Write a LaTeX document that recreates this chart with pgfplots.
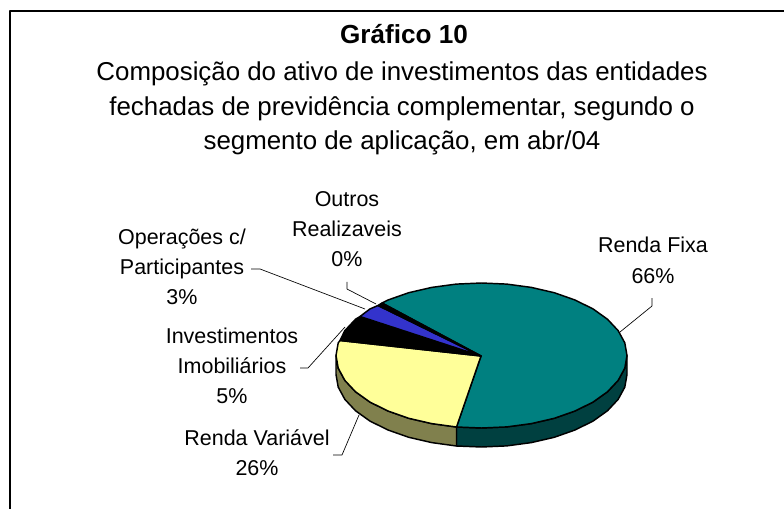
\documentclass[border=0pt]{standalone}
\usepackage{pgfplots}
\pgfplotsset{compat=1.18}
\usepackage{fontspec}
\setmainfont{Liberation Sans}
\definecolor{tealtop}{HTML}{008080}
\definecolor{tealside}{HTML}{004040}
\definecolor{yellowtop}{HTML}{FFFF99}
\definecolor{yellowside}{HTML}{80804D}
\definecolor{bluetop}{HTML}{3333CC}
\newcommand{\lab}[3]{\node[anchor=base,inner sep=0pt,font=\fontsize{16.1}{18}\selectfont] at (axis cs:#1,#2) {#3};}
\newcommand{\ttl}[3]{\node[anchor=base,inner sep=0pt,font=\fontsize{19.4}{22}\selectfont] at (axis cs:#1,#2) {#3};}
\begin{document}
\begin{tikzpicture}
\begin{axis}[
    scale only axis,
    width=588pt, height=381.75pt,
    xmin=0, xmax=784, ymin=0, ymax=509,
    y dir=reverse,
    hide axis,
    clip=true,
    every axis plot/.append style={no markers, line join=round},
]
% keeps the page at the full size
\addplot[draw=none] coordinates {(0,0) (784,509)};
% frame (cut off at right and bottom)
\addplot[black, line width=0.9pt] coordinates {(10,509) (10,11) (784,11)};

% sides of the pie
\addplot[fill=tealside, draw=black, line width=1.1pt] coordinates {
    (627,355.5) (624.8,368.1) (618.2,380.3) (607.5,391.75) (593,402.1) (575,411)
    (554.25,418.3) (531.3,423.6) (506.8,426.9) (481.5,428) (456.5,427)
    (456.5,446) (481.5,447) (506.8,445.9) (531.3,442.6) (554.25,437.3) (575,430)
    (593,421.1) (607.5,410.75) (618.2,399.3) (624.8,387.1) (627,374.5)
} --cycle;
\addplot[fill=yellowside, draw=black, line width=1.1pt] coordinates {
    (456.5,427) (431.7,423.6) (408.75,418.3) (388,411) (370,402.1) (355.5,391.75)
    (344.8,380.3) (338.2,368.1) (336,355.5)
    (336,374.5) (338.2,387.1) (344.8,399.3) (355.5,410.75) (370,421.1) (388,430)
    (408.75,437.3) (431.7,442.6) (456.5,446)
} --cycle;

% top face: Renda Fixa 66%
\addplot[fill=tealtop, draw=black, line width=1.1pt] coordinates {
    (481,356) (382,303) (388,300) (408.75,292.7) (431.7,287.4) (456.2,284.1) (481.5,283)
    (506.8,284.1) (531.3,287.4) (554.25,292.7) (575,300) (593,308.9) (607.5,319.25)
    (618.2,330.7) (624.8,342.9) (627,355.5) (624.8,368.1) (618.2,380.3) (607.5,391.75)
    (593,402.1) (575,411) (554.25,418.3) (531.3,423.6) (506.8,426.9) (481.5,428) (456.5,427)
} --cycle;
% Renda Variavel 26%
\addplot[fill=yellowtop, draw=black, line width=1.1pt] coordinates {
    (481,356) (456.5,427) (431.7,423.6) (408.75,418.3) (388,411) (370,402.1) (355.5,391.75)
    (344.8,380.3) (338.2,368.1) (336,355.5) (338.2,342.9) (340,340.5)
} --cycle;
% Investimentos Imobiliarios 5%
\addplot[fill=black, draw=black, line width=1.1pt] coordinates {
    (481,356) (340,340.5) (344.8,330.7) (355.5,319.25) (360,316.5)
} --cycle;
% Operacoes c/ Participantes 3%
\addplot[fill=bluetop, draw=black, line width=1.1pt] coordinates {
    (481,356) (360,316.5) (370,308.9) (378,305.5)
} --cycle;
% Outros Realizaveis 0%
\addplot[fill=black, draw=black, line width=1.1pt] coordinates {
    (481,356) (378,305.5) (382,303)
} --cycle;

% leader lines
\addplot[black, line width=0.5pt] coordinates {(620,332) (652,306) (652,298)};
\addplot[black, line width=0.5pt] coordinates {(251,269) (260,269) (365,309)};
\addplot[black, line width=0.5pt] coordinates {(347,282) (347,289) (376,304)};
\addplot[black, line width=0.5pt] coordinates {(345,327) (308,368) (300,368)};
\addplot[black, line width=0.5pt] coordinates {(359,415) (342,455) (333,455)};

% title
\node[anchor=base,inner sep=0pt,font=\fontsize{19.6}{22}\selectfont\bfseries] at (axis cs:404,44) {Gráfico 10};
\ttl{402}{81}{Composição do ativo de investimentos das entidades}
\ttl{402}{116}{fechadas de previdência complementar, segundo o}
\ttl{402}{150}{segmento de aplicação, em abr/04}

% data labels
\lab{347}{207}{Outros}
\lab{347}{237}{Realizaveis}
\lab{347}{267}{0\%}
\lab{182}{245}{Operações c/}
\lab{182}{275}{Participantes}
\lab{182}{305}{3\%}
\lab{232}{343}{Investimentos}
\lab{232}{373}{Imobiliários}
\lab{232}{403}{5\%}
\lab{257}{445}{Renda Variável}
\lab{257}{475}{26\%}
\lab{653}{253}{Renda Fixa}
\lab{653}{283.5}{66\%}
\end{axis}
\end{tikzpicture}
\end{document}
